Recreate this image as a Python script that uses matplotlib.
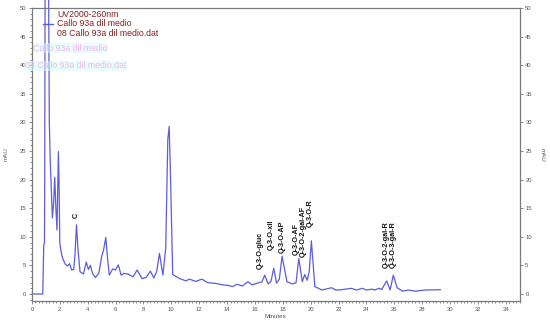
import numpy as np
import matplotlib
matplotlib.use('Agg')
import matplotlib.pyplot as plt
from matplotlib.ticker import MultipleLocator

plt.rcParams['font.family'] = ['Liberation Sans', 'DejaVu Sans']

# chromatogram trace (minutes, mAU)
minutes = [0, 0.78, 0.85, 0.9, 0.92, 0.97, 1.05, 1.15, 1.25, 1.32, 1.47, 1.56, 1.64, 1.72,
           1.8, 1.9, 1.95, 2.0, 2.1, 2.2, 2.4, 2.55, 2.7, 2.85, 3.0, 3.08, 3.2, 3.3, 3.45,
           3.7, 3.9, 4.05, 4.2, 4.35, 4.55, 4.8, 5.0, 5.15, 5.3, 5.4, 5.55, 5.8, 6.0, 6.2,
           6.4, 6.6, 6.9, 7.25, 7.55, 7.9, 8.2, 8.5, 8.75, 8.95, 9.15, 9.4, 9.6, 9.75, 9.85,
           9.95, 10.1, 10.6, 11.05, 11.3, 11.75, 12.2, 12.6, 13.2, 13.7, 14.1, 14.4, 14.7,
           15.1, 15.5, 15.8, 16.3, 16.5, 16.7, 16.95, 17.15, 17.35, 17.55, 17.75, 17.95,
           18.3, 18.7, 18.95, 19.15, 19.4, 19.57, 19.75, 19.9, 20.05, 20.3, 20.8, 21.5,
           21.8, 22.2, 22.9, 23.3, 23.7, 24.0, 24.4, 24.6, 24.9, 25.1, 25.45, 25.7, 25.93,
           26.2, 26.6, 27.0, 27.5, 28.2, 29.3]
mau = [0, 0, 8.5, 9, 20, 85, 65, 75, 30, 23, 13.3, 16, 20.4, 15,
       11.2, 24.9, 19, 9, 7.3, 6.3, 5.2, 4.9, 5.3, 4.2, 4.3, 6.5, 12.1, 8, 3.9,
       3.5, 5.6, 4.3, 5.0, 3.6, 2.9, 3.6, 6.5, 7.8, 9.9, 7, 3.3, 4.4, 4.2, 5.1,
       3.3, 3.6, 3.5, 3.0, 4.2, 2.7, 2.9, 4.0, 2.8, 3.9, 7.1, 3.3, 8, 27, 29.3,
       20, 3.4, 2.7, 2.3, 2.6, 2.2, 2.6, 2.0, 1.85, 1.6, 1.5, 1.3, 1.7,
       1.4, 2.15, 1.6, 2.0, 2.1, 3.3, 1.75, 2.2, 4.5, 1.9, 2.6, 6.6,
       2.15, 1.75, 2.0, 6.2, 2.15, 3.4, 2.4, 4, 9.3, 1.3, 0.7, 1.1,
       0.7, 0.75, 1.0, 0.7, 1.0, 0.7, 0.85, 0.7, 1.0, 0.8, 2.3, 0.7, 3.3,
       1.1, 0.5, 0.7, 0.5, 0.7, 0.75]

peak_labels = ['C', 'Q-3-O-gluc', 'Q-3-O-xil', 'Q-3-O-AP', 'Q-3-O-AF', 'Q-3-O-2-gal-AF',
               'Q-3-O-R', 'Q-3-O-2-gal-R', 'Q-3-O-3-gal-R']
peak_x = [3.2, 16.4, 17.2, 17.95, 19.0, 19.5, 20.0, 25.45, 25.95]
peak_y = [13.3, 4.3, 7.7, 7.2, 6.8, 6.5, 11.7, 4.6, 4.6]

legend_lines = ['UV2000-260nm', 'Callo 93a dil medio', '08 Callo 93a dil medio.dat']
legend_y = [48.9, 47.25, 45.5]

line_col = '#5c5cdc'
grey = '#7a7a7a'

fig = plt.figure(figsize=(5.5, 3.21), dpi=100)
ax = fig.add_axes([0.058, 0.0623, 0.887, 0.9127])

ax.plot(minutes, mau, color=line_col, lw=0.9, clip_on=False)

ax.xaxis.set_major_locator(MultipleLocator(2))
ax.xaxis.set_minor_locator(MultipleLocator(0.25))
ax.yaxis.set_major_locator(MultipleLocator(5))
ax.yaxis.set_minor_locator(MultipleLocator(1))
ax.tick_params(which='both', colors=grey, labelcolor='#555555', labelsize=4.2,
               direction='out', width=0.6, pad=1.5)
ax.tick_params(which='major', length=2.5)
ax.tick_params(which='minor', length=1.3)
ax.tick_params(axis='y', right=True, labelright=True)
for s in ax.spines.values():
    s.set_color(grey)
    s.set_linewidth(0.9)

ax.set_xlabel('Minutes', fontsize=4.5, color='#555555', labelpad=2)
ax.set_ylabel('mAU', fontsize=4.5, color='#555555', labelpad=8)
ax.text(1.045, 0.5, 'mAU', transform=ax.transAxes, rotation=270, fontsize=4.5,
        color='#555555', ha='center', va='center')

for lab, x, y in zip(peak_labels, peak_x, peak_y):
    ax.text(x, y, lab, rotation=90, ha='center', va='bottom', fontsize=5.2,
            fontweight='bold', color='#111111')

# faint ghost copies of the header text seen in the picture
ghosts = [(0.1, 43.0, legend_lines[1]), (-0.5, 39.9, legend_lines[2])]
for gx, gy, gt in ghosts:
    ax.text(gx, gy, gt, fontsize=6.3, color='#f5a3e8', alpha=0.75, va='center', clip_on=False,
            bbox=dict(boxstyle='square,pad=0.05', fc='#d6fafa', ec='none', alpha=0.55))

# header / legend
ax.plot([0.8, 1.5], [legend_y[1], legend_y[1]], color=line_col, lw=1.0, clip_on=False)
for t, y in zip(legend_lines, legend_y):
    ax.text(1.8, y, t, fontsize=6.3, color='#8b1f1f', va='center')

ax.set_xlim(0, 35)
ax.set_ylim(-1.22, 50)

fig.savefig('out.png', dpi=100)
